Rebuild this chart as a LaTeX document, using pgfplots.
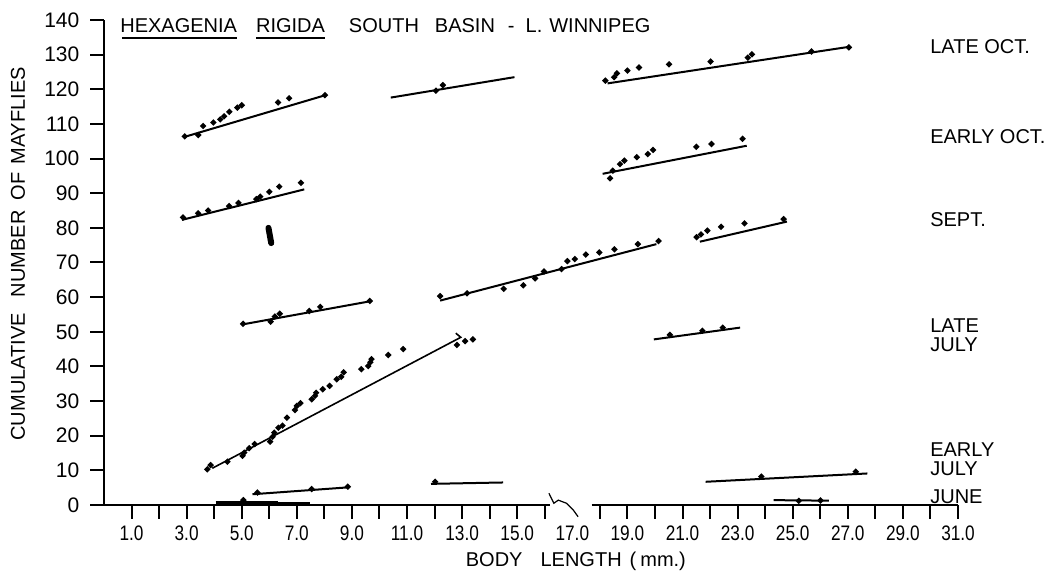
\documentclass[border=0pt]{standalone}
\usepackage{fontspec}
\setmainfont{Liberation Sans}
\usepackage{graphicx}
\usepackage{pgfplots}
\pgfplotsset{compat=1.18}
\newcommand\xl[1]{\scalebox{0.82}[1]{#1}}
\begin{document}
\begin{tikzpicture}[font=\fontsize{10}{12}\selectfont]
\begin{axis}[
  name=ax,
  scale only axis,
  width=427pt, height=242.5pt,
  xmin=0, xmax=31, ymin=0, ymax=140,
  enlargelimits=false,
  axis x line=bottom, axis y line=left,
  axis line style={-, line width=1.2pt},
  x axis line style={draw=none},
  tick align=outside,
  major tick length=6.8pt, minor tick length=6.8pt,
  tick style={line width=1pt, black},
  xtick={1,3,5,7,9,11,13,15,19,21,23,25,27,29,31},
  xticklabels={\xl{1.0},\xl{3.0},\xl{5.0},\xl{7.0},\xl{9.0},\xl{11.0},\xl{13.0},\xl{15.0},\xl{19.0},\xl{21.0},\xl{23.0},\xl{25.0},\xl{27.0},\xl{29.0},\xl{31.0}},
  minor xtick={2,4,6,8,10,12,14,16,18,20,22,24,26,28,30},
  extra x ticks={17},
  extra x tick labels={\xl{17.0}},
  extra x tick style={xtick style={draw=none}},
  xticklabel style={font=\fontsize{10.5}{12}\selectfont},
  ytick={0,10,...,140},
  /pgf/number format/assume math mode=true,
  yticklabel style={font=\fontsize{10.5}{12}\selectfont, xshift=-2pt},
  every axis plot/.append style={black, line width=1pt},
  clip=false,
]
% ---------------- fitted lines ----------------
\addplot[no marks] coordinates {(2.9,106.2)(8.08,118.4)};
\addplot[no marks] coordinates {(10.41,117.6)(14.9,123.5)};
\addplot[no marks] coordinates {(18.28,121.7)(27.0,132.2)};
\addplot[no marks] coordinates {(18.1,95.6)(23.33,103.7)};
\addplot[no marks] coordinates {(2.83,82.3)(7.27,91.1)};
\addplot[no marks] coordinates {(21.63,76.0)(24.79,81.8)};
\addplot[no marks] coordinates {(12.2,59.0)(20.05,75.3)};
\addplot[no marks] coordinates {(5.08,52.2)(9.73,58.9)};
\addplot[no marks] coordinates {(19.96,47.8)(23.09,51.2)};
\addplot[no marks, line width=0.8pt] coordinates {(3.93,10.6)(12.95,48.4)(12.77,49.6)};
\addplot[no marks] coordinates {(5.39,3.1)(8.88,5.1)};
\addplot[no marks] coordinates {(11.87,6.1)(14.49,6.5)};
\addplot[no marks] coordinates {(21.84,6.7)(27.71,9.1)};
\addplot[no marks, line width=2.2pt] coordinates {(4.05,0.6)(6.3,0.6)};
\addplot[no marks, line width=1.4pt] coordinates {(6.3,0.6)(7.46,0.6)};
\addplot[no marks] coordinates {(24.31,1.4)(26.31,1.25)};
\addplot[no marks, line width=3pt, line cap=round] coordinates {(5.97,80.0)(6.07,75.6)};
% ---------------- observed points ----------------
\pgfplotsset{pts/.style={only marks, mark=*, mark size=0.95pt}}
% late Oct
\addplot[pts] coordinates {(2.93,106.4)(3.42,106.8)(3.6,109.4)(3.97,110.4)(4.22,111.3)(4.36,112.2)(4.55,113.5)(4.84,114.7)(5.0,115.4)(6.32,116.2)(6.72,117.4)(8.02,118.3)};
\addplot[pts] coordinates {(12.05,119.6)(12.3,121.2)};
\addplot[pts] coordinates {(18.2,122.5)(18.52,123.5)(18.62,124.6)(19.0,125.4)(19.42,126.3)(20.51,127.2)(22.02,128.0)(23.37,129.1)(23.52,130.1)(25.68,130.9)(27.04,132.1)};
% early Oct
\addplot[pts] coordinates {(18.37,94.3)(18.47,96.5)(18.73,98.4)(18.89,99.4)(19.34,100.4)(19.74,101.3)(19.93,102.5)(21.5,103.4)(22.05,104.2)(23.18,105.7)};
% Sept
\addplot[pts] coordinates {(2.87,83.0)(3.42,84.2)(3.78,85.0)(4.54,86.3)(4.88,87.2)(5.53,88.3)(5.67,89.0)(6.0,90.4)(6.36,91.9)(7.15,93.0)};
\addplot[pts] coordinates {(21.51,77.3)(21.67,78.1)(21.9,79.2)(22.4,80.3)(23.25,81.3)(24.67,82.5)};
\addplot[pts] coordinates {(12.2,60.3)(13.18,61.1)(14.51,62.4)(15.22,63.4)(15.65,65.4)(15.97,67.4)(16.61,68.1)(16.82,70.4)(17.09,71.0)(17.49,72.3)(17.98,72.9)(18.53,73.8)(19.38,75.3)(20.13,76.2)};
\addplot[pts] coordinates {(5.05,52.3)(6.05,52.9)(6.2,54.4)(6.38,55.2)(7.45,56.0)(7.85,57.2)(9.65,58.9)};
% late July
\addplot[pts] coordinates {(20.54,49.1)(21.72,50.3)(22.46,51.2)};
\addplot[pts] coordinates {(3.75,10.3)(3.87,11.5)(4.48,12.5)(5.03,14.2)(5.09,15.1)(5.27,16.4)(5.47,17.6)(6.03,18.3)(6.12,19.7)(6.18,20.9)(6.33,22.3)(6.48,22.9)(6.64,25.2)(6.93,27.4)(7.0,28.6)(7.13,29.4)(7.54,30.5)(7.66,31.5)(7.70,32.4)(7.94,33.4)(8.19,34.4)(8.45,36.3)(8.61,37.0)(8.70,38.3)(9.34,39.2)(9.59,40.1)(9.67,41.2)(9.71,42.1)(10.32,43.3)(10.86,45.0)(12.81,46.2)(13.11,47.3)(13.39,47.8)};
% early July
\addplot[pts] coordinates {(5.57,3.6)(7.54,4.6)(8.85,5.3)};
\addplot[pts] coordinates {(12.02,6.7)};
\addplot[pts] coordinates {(23.86,8.2)(27.29,9.6)};
% June
\addplot[pts] coordinates {(5.06,1.4)(25.22,1.2)(26.01,1.3)};
% ---------------- axis line with break ----------------
\draw[line width=1.2pt] (axis cs:-0.5,0) -- (axis cs:16.2,0);
\draw[line width=1.2pt] (axis cs:17.7,0) -- (axis cs:31,0);
\draw[line width=0.6pt] (axis cs:16.15,3.4) -- (axis cs:16.33,0.5) -- (axis cs:16.49,1.4) -- (axis cs:16.79,0.5) -- (axis cs:17.03,-1.4) -- (axis cs:17.21,-3.4);
% ---------------- text ----------------
\node[anchor=base west, inner sep=0pt] at (axis cs:0.58,136.4) {HEXAGENIA\hspace{9.5pt}RIGIDA\hspace{12pt}SOUTH\hspace{8pt}BASIN\hspace{6.5pt}-\hspace{5.5pt}L.\hspace{3.5pt}WINNIPEG};
\draw[line width=0.8pt] (axis cs:0.65,134.8) -- (axis cs:4.83,134.8);
\draw[line width=0.8pt] (axis cs:5.52,134.8) -- (axis cs:8.02,134.8);
\node[anchor=west, inner sep=0pt] at (axis cs:29.98,132.2) {LATE OCT.};
\node[anchor=west, inner sep=0pt] at (axis cs:29.98,106.2) {EARLY OCT.};
\node[anchor=west, inner sep=0pt] at (axis cs:29.98,82.3) {SEPT.};
\node[anchor=west, inner sep=0pt, align=left, font=\fontsize{10}{9.5}\selectfont] at (axis cs:29.98,48.9) {LATE\\JULY};
\node[anchor=west, inner sep=0pt, align=left, font=\fontsize{10}{9.5}\selectfont] at (axis cs:29.98,13.3) {EARLY\\JULY};
\node[anchor=west, inner sep=0pt] at (axis cs:29.98,2.3) {JUNE};
\node[rotate=90, inner sep=0pt] at (axis cs:-3.12,72.5) {CUMULATIVE\hspace{8pt}NUMBER\hspace{5pt}OF\hspace{4pt}MAYFLIES};
\node[inner sep=0pt] at (axis cs:17.13,-16.2) {BODY\hspace{9pt}LENGTH\hspace{4pt}(\hspace{2pt}mm.)};
\end{axis}
\pgfresetboundingbox
\path[use as bounding box] ([shift={(-52pt,-38pt)}]ax.south west) rectangle ([shift={(477pt,252.5pt)}]ax.south west);
\end{tikzpicture}
\end{document}
